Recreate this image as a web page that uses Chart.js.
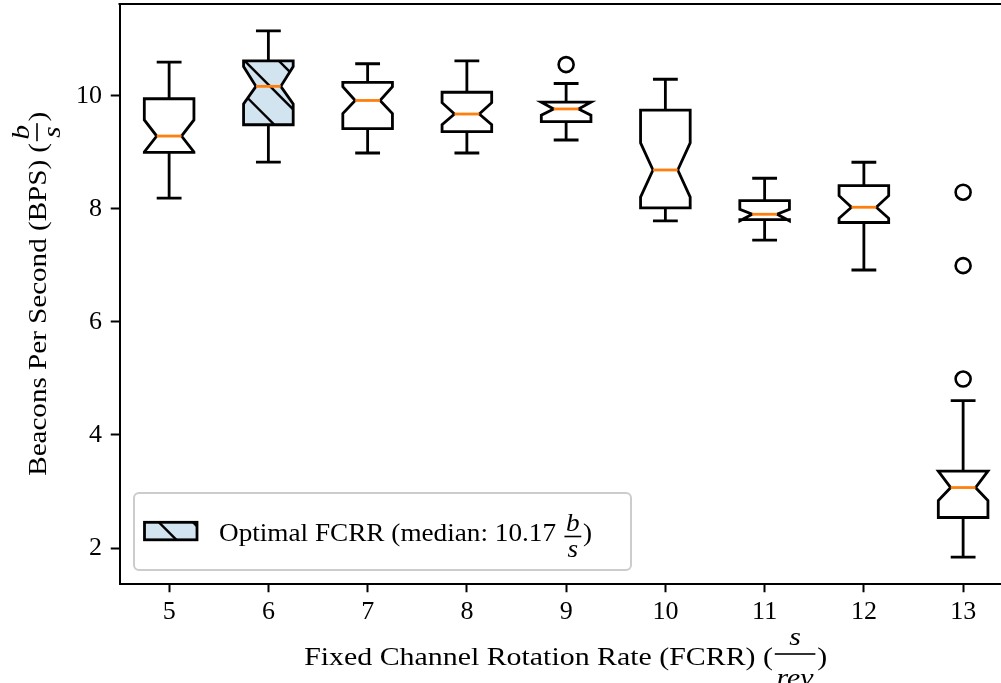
<!DOCTYPE html>
<html><head><meta charset="utf-8">
<script src="https://cdn.jsdelivr.net/npm/chart.js@4.4.0/dist/chart.umd.min.js"></script>
<style>
html,body{margin:0;padding:0;overflow:hidden;background:#fff;}
#wrap{position:absolute;left:0;top:0;width:1014px;height:683px;}
</style></head><body>
<div id="wrap"><canvas id="c" width="1014" height="683"></canvas></div>
<script>
// ---- data ----
const categories  = [5, 6, 7, 8, 9, 10, 11, 12, 13];
const whiskerLow  = [8.19, 8.83, 8.99, 8.99, 9.22, 7.79, 7.45, 6.92, 1.84];
const q1          = [9.00, 9.49, 9.42, 9.37, 9.545, 8.02, 7.81, 7.76, 2.54];
const notchLow    = [9.01, 9.86, 9.69, 9.49, 9.66, 8.21, 7.79, 7.835, 2.84];
const median      = [9.29, 10.17, 9.92, 9.68, 9.77, 8.69, 7.906, 8.03, 3.07];
const notchHigh   = [9.575, 10.52, 10.165, 9.88, 9.89, 9.17, 7.995, 8.235, 3.36];
const q3          = [9.95, 10.62, 10.24, 10.065, 9.89, 9.75, 8.147, 8.413, 3.36];
const whiskerHigh = [10.60, 11.15, 10.57, 10.62, 10.22, 10.295, 8.543, 8.827, 4.607];
const outlierCat  = [9, 13, 13, 13];
const outlierVal  = [10.555, 8.296, 6.997, 4.99];
const yTicks      = [2, 4, 6, 8, 10];
const optimalCat  = 6;
const legendText  = 'Optimal FCRR (median: 10.17 ';
const legendFrac  = ['b', 's'];
const xTitle      = 'Fixed Channel Rotation Rate (FCRR) (';
const xFrac       = ['s', 'rev'];
const yTitle      = 'Beacons Per Second (BPS) (';
const yFrac       = ['b', 's'];

// ---- style ----
const FONT = '"Liberation Serif", "Times New Roman", serif';
const FS = 25;
const BOX_W = 0.5;
const LW = 2.8;
const FILL_OPT = 'rgb(211,228,241)';
const MED_COLOR = '#ff7f0e';
const HATCH_SP = 34.2, HATCH_PHASE = 218;

function hatch(ctx, x0, y0, x1, y1) {
  ctx.save();
  ctx.lineWidth = 2.4; ctx.strokeStyle = '#000';
  const cMin = x0 - y1, cMax = x1 - y0;
  let k = Math.floor((cMin - HATCH_PHASE) / HATCH_SP) - 1;
  for (let c = HATCH_PHASE + k * HATCH_SP; c <= cMax + HATCH_SP; c += HATCH_SP) {
    ctx.beginPath();
    ctx.moveTo(c + y0 - 5, y0 - 5);
    ctx.lineTo(c + y1 + 5, y1 + 5);
    ctx.stroke();
  }
  ctx.restore();
}

function fracParts(ctx, main, frac) {
  ctx.font = `${FS}px ${FONT}`;
  const w1 = ctx.measureText(main).width, w3 = ctx.measureText(')').width;
  ctx.font = `italic ${FS}px ${FONT}`;
  const wn = ctx.measureText(frac[0]).width, wd = ctx.measureText(frac[1]).width;
  const fw = Math.max(wn, wd) + 6;
  return { w1, w3, wn, wd, fw, total: w1 + fw + w3 };
}
function drawFracLabel(ctx, main, frac, x0, base, targetW, off) {
  const m = fracParts(ctx, main, frac);
  ctx.save();
  ctx.translate(x0, base);
  ctx.scale(targetW / m.total, 1);
  ctx.textAlign = 'left'; ctx.textBaseline = 'alphabetic'; ctx.fillStyle = '#000';
  ctx.font = `${FS}px ${FONT}`;
  ctx.fillText(main, 0, 0);
  let x = m.w1;
  ctx.font = `italic ${FS}px ${FONT}`;
  ctx.fillText(frac[0], x + (m.fw - m.wn) / 2, off.num);
  ctx.fillText(frac[1], x + (m.fw - m.wd) / 2, off.den);
  ctx.fillRect(x + 1.5, off.bar - 0.8, m.fw - 3, 1.6);
  x += m.fw;
  ctx.font = `${FS}px ${FONT}`;
  ctx.fillText(')', x, 0);
  ctx.restore();
}

const boxPlugin = {
  id: 'boxes',
  beforeDatasetsDraw(chart) {
    const { ctx, scales: { x, y } } = chart;
    const Y = v => y.getPixelForValue(v);
    ctx.save();
    categories.forEach((c, i) => {
      const cx = x.getPixelForValue(c);
      const hw = x.getPixelForValue(c + BOX_W / 2) - cx;
      const nw = hw / 2, cw = hw / 2;
      const L = cx - hw, R = cx + hw;
      const pts = [[L, Y(q1[i])], [R, Y(q1[i])], [R, Y(notchLow[i])], [cx + nw, Y(median[i])],
        [R, Y(notchHigh[i])], [R, Y(q3[i])], [L, Y(q3[i])], [L, Y(notchHigh[i])],
        [cx - nw, Y(median[i])], [L, Y(notchLow[i])]];
      const path = new Path2D();
      pts.forEach((p, j) => j ? path.lineTo(p[0], p[1]) : path.moveTo(p[0], p[1]));
      path.closePath();
      ctx.strokeStyle = '#000'; ctx.lineWidth = LW; ctx.lineCap = 'butt'; ctx.lineJoin = 'miter';
      ctx.beginPath();
      ctx.moveTo(cx, Y(q3[i])); ctx.lineTo(cx, Y(whiskerHigh[i]));
      ctx.moveTo(cx, Y(q1[i])); ctx.lineTo(cx, Y(whiskerLow[i]));
      ctx.moveTo(cx - cw, Y(whiskerHigh[i])); ctx.lineTo(cx + cw, Y(whiskerHigh[i]));
      ctx.moveTo(cx - cw, Y(whiskerLow[i])); ctx.lineTo(cx + cw, Y(whiskerLow[i]));
      ctx.stroke();
      const opt = c === optimalCat;
      ctx.fillStyle = opt ? FILL_OPT : '#fff';
      ctx.fill(path);
      if (opt) {
        ctx.save(); ctx.clip(path);
        const ys = pts.map(p => p[1]);
        hatch(ctx, L, Math.min(...ys), R, Math.max(...ys));
        ctx.restore();
      }
      ctx.stroke(path);
      ctx.strokeStyle = MED_COLOR;
      ctx.beginPath(); ctx.moveTo(cx - nw, Y(median[i])); ctx.lineTo(cx + nw, Y(median[i])); ctx.stroke();
    });
    ctx.restore();
  },
  afterDraw(chart) {
    const { ctx, chartArea: ca } = chart;
    ctx.save();
    ctx.strokeStyle = '#000'; ctx.lineWidth = 2;
    ctx.beginPath(); ctx.moveTo(ca.left - 1, ca.top); ctx.lineTo(ca.right + 1, ca.top);
    ctx.moveTo(ca.right, ca.top); ctx.lineTo(ca.right, ca.bottom); ctx.stroke();
    // legend
    const lx = ca.left + 14.5, lb = ca.bottom - 13.5, lw = 497, lh = 77, ly = lb - lh;
    ctx.beginPath(); ctx.roundRect(lx, ly, lw, lh, 5);
    ctx.fillStyle = 'rgba(255,255,255,0.8)'; ctx.fill();
    ctx.strokeStyle = '#cccccc'; ctx.lineWidth = 2; ctx.stroke();
    const hx = lx + 10.5, hy = ly + 29.3, hwid = 52.5, hh = 17.5;
    ctx.fillStyle = FILL_OPT; ctx.fillRect(hx, hy, hwid, hh);
    ctx.save(); ctx.beginPath(); ctx.rect(hx, hy, hwid, hh); ctx.clip();
    hatch(ctx, hx, hy, hx + hwid, hy + hh); ctx.restore();
    ctx.strokeStyle = '#000'; ctx.lineWidth = LW; ctx.strokeRect(hx, hy, hwid, hh);
    drawFracLabel(ctx, legendText, legendFrac, lx + 85, ly + 47.5, 373, { num: -10, bar: -4, den: 16 });
    // x title
    const xc = (ca.left + ca.right) / 2;
    drawFracLabel(ctx, xTitle, xFrac, xc - 523 / 2 - 0.5, 665, 523, { num: -20, bar: -11, den: 21 });
    // y title
    const yc = (ca.top + ca.bottom) / 2;
    ctx.translate(46, yc); ctx.rotate(-Math.PI / 2);
    drawFracLabel(ctx, yTitle, yFrac, -364 / 2, 0, 364, { num: -17, bar: -9, den: 14 });
    ctx.restore();
  }
};

const tickFont = { family: FONT, size: 26 };
new Chart(document.getElementById('c').getContext('2d'), {
  type: 'scatter',
  data: {
    datasets: [{
      data: outlierCat.map((c, i) => ({ x: c, y: outlierVal[i] })),
      pointRadius: 7.5, pointHoverRadius: 7.5, pointStyle: 'circle',
      borderColor: '#000', borderWidth: 2.6, backgroundColor: 'rgba(0,0,0,0)'
    }]
  },
  options: {
    responsive: false, animation: false, devicePixelRatio: 1, events: [],
    layout: { autoPadding: false, padding: { left: 0, top: 4, right: 1.25, bottom: 0 } },
    plugins: { legend: { display: false }, tooltip: { enabled: false } },
    scales: {
      x: {
        type: 'linear', min: categories[0] - 0.5, max: categories[categories.length - 1] + 0.5,
        afterBuildTicks: s => { s.ticks = categories.map(v => ({ value: v })); },
        afterFit: s => { s.height = 99.5; s.paddingLeft = 0; s.paddingRight = 0; },
        ticks: { autoSkip: false, maxRotation: 0, padding: 4.5, color: '#000', font: tickFont, callback: v => String(v) },
        grid: { display: true, drawOnChartArea: false, drawTicks: true, tickLength: 8.75, tickWidth: 2, tickColor: '#000' },
        border: { display: true, width: 2, color: '#000' }
      },
      y: {
        type: 'linear', min: 1.372, max: 11.627,
        afterBuildTicks: s => { s.ticks = yTicks.map(v => ({ value: v })); },
        afterFit: s => { s.width = 119.5; s.paddingTop = 0; s.paddingBottom = 0; },
        ticks: { padding: 8.75, color: '#000', font: tickFont, callback: v => String(v) },
        grid: { display: true, drawOnChartArea: false, drawTicks: true, tickLength: 8.75, tickWidth: 2, tickColor: '#000' },
        border: { display: true, width: 2, color: '#000' }
      }
    }
  },
  plugins: [boxPlugin]
});
</script>
</body></html>
